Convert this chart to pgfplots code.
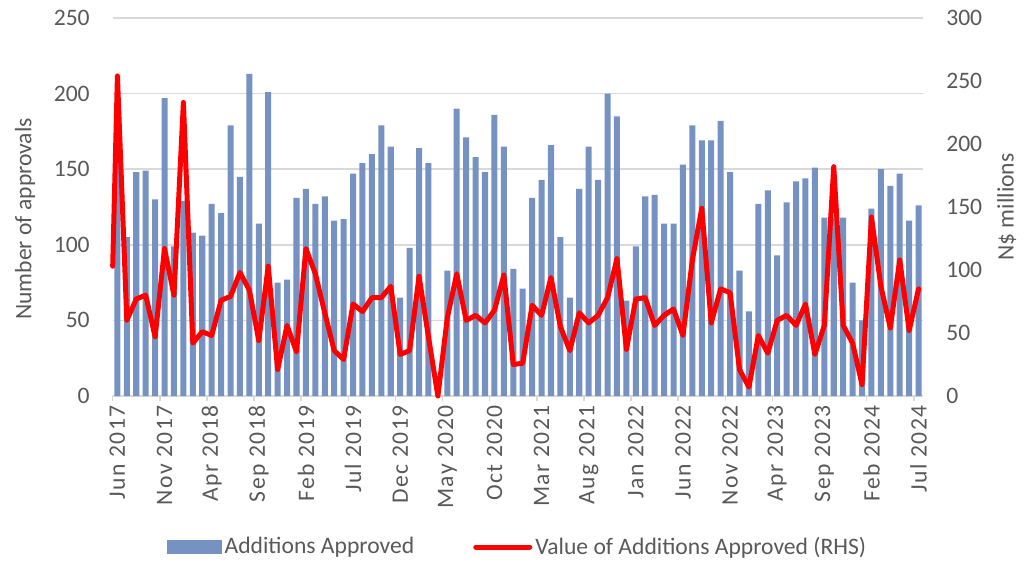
\documentclass[border=0pt]{standalone}
\usepackage{fontspec}
\setmainfont{Carlito}
\newfontfamily\spaced[LetterSpace=6]{Carlito}
\usepackage{pgfplots}
\pgfplotsset{compat=1.18}
\usepackage{pgfplotstable}

\definecolor{barblue}{RGB}{117,146,194}
\definecolor{gridgray}{RGB}{217,217,217}
\definecolor{labelgray}{RGB}{89,89,89}

% monthly data, Jun 2017 = 0 ... Jul 2024 = 85
\pgfplotstableread{
x n
0 165
1 105
2 148
3 149
4 130
5 197
6 99
7 129
8 108
9 106
10 127
11 121
12 179
13 145
14 213
15 114
16 201
17 75
18 77
19 131
20 137
21 127
22 132
23 116
24 117
25 147
26 154
27 160
28 179
29 165
30 65
31 98
32 164
33 154
34 0
35 83
36 190
37 171
38 158
39 148
40 186
41 165
42 84
43 71
44 131
45 143
46 166
47 105
48 65
49 137
50 165
51 143
52 200
53 185
54 63
55 99
56 132
57 133
58 114
59 114
60 153
61 179
62 169
63 169
64 182
65 148
66 83
67 56
68 127
69 136
70 93
71 128
72 142
73 144
74 151
75 118
76 118
77 118
78 75
79 50
80 124
81 150
82 139
83 147
84 116
85 126
}\approvals

\pgfplotstableread{
x v
-0.5 103
0 254
1 60
2 77
3 80
4 47
5 117
6 80
7 233
8 42
9 51
10 48
11 76
12 79
13 98
14 84
15 44
16 103
17 21
18 56
19 35
20 117
21 97
22 66
23 36
24 29
25 73
26 67
27 78
28 78
29 87
30 33
31 36
32 95
33 47
34 0
35 62
36 97
37 60
38 64
39 58
40 68
41 96
42 25
43 26
44 72
45 64
46 94
47 55
48 36
49 66
50 58
51 64
52 78
53 109
54 37
55 77
56 78
57 56
58 64
59 69
60 48
61 108
62 149
63 58
64 85
65 82
66 21
67 7
68 48
69 34
70 60
71 64
72 56
73 73
74 33
75 56
76 182
77 56
78 42
79 9
80 142
81 87
82 54
83 108
84 52
85 85
}\values

\newcommand{\lbl}{\fontsize{11.8}{14}\selectfont\color{labelgray}}

\begin{document}
\begin{tikzpicture}
\pgfplotsset{
  every axis/.append style={
    scale only axis, width=405.3pt, height=189pt,
    xmin=-0.5, xmax=85.5,
    tick label style={font=\lbl},
    /pgf/number format/assume math mode=true,
  }
}
\begin{axis}[
  ymin=0, ymax=250, ytick={0,50,...,250},
  axis x line*=bottom, axis y line*=left,
  x axis line style={draw=gridgray, line width=0.75pt},
  y axis line style={draw=none},
  ymajorgrids, grid style={draw=gridgray, line width=0.75pt},
  major tick length=0pt,
  ytick style={draw=none},
  yticklabel style={inner sep=0pt, xshift=-11.3pt},
  xtick={0,5,...,85},
  xticklabels={Jun 2017,Nov 2017,Apr 2018,Sep 2018,Feb 2019,Jul 2019,Dec 2019,May 2020,Oct 2020,Mar 2021,Aug 2021,Jan 2022,Jun 2022,Nov 2022,Apr 2023,Sep 2023,Feb 2024,Jul 2024},
  xticklabel style={yshift=-4.5pt, rotate=90, anchor=east, inner sep=0pt, font=\lbl\spaced},
  extra x ticks={-0.5,4.5,...,84.5},
  extra x tick labels={},
  extra x tick style={major tick length=2.5pt, tick align=outside, tick style={draw=gridgray, line width=0.75pt}},
  ylabel={Number of approvals},
  every axis y label/.style={at={(axis description cs:0,0.5)}, xshift=-43.8pt, yshift=-6pt, rotate=90, anchor=center, font=\lbl, text=labelgray},
]
\addplot[ybar, bar width=0.64, fill=barblue, draw=none] table[x=x, y=n] {\approvals};
\end{axis}

\begin{axis}[
  ymin=0, ymax=300, ytick={0,50,...,300},
  axis x line=none, axis y line*=right,
  y axis line style={draw=none},
  major tick length=0pt,
  ytick style={draw=none},
  yticklabel style={inner sep=0pt, anchor=west, xshift=11.3pt},
  ylabel={N\$ millions},
  every axis y label/.style={at={(axis description cs:1,0.5)}, xshift=41.7pt, rotate=90, anchor=center, font=\lbl, text=labelgray},
  clip=false,
  legend style={at={(axis description cs:0.5,0)}, anchor=center, yshift=-75.5pt,
    draw=none, fill=none, legend columns=2, font=\lbl,
    /tikz/every even column/.append style={column sep=28pt},
    nodes={inner sep=1.5pt}},
]
\addlegendimage{legend image code/.code={\fill[barblue] (0pt,-3.3pt) rectangle (27pt,3.3pt);}}
\addlegendentry{Additions Approved}
\addplot[red, line width=2.5pt, line join=round, line cap=round,
  legend image code/.code={\draw[red, line width=2.5pt, line cap=round] (0pt,0pt) -- (27pt,0pt);}]
  table[x=x, y=v] {\values};
\addlegendentry{Value of Additions Approved (RHS)}
\end{axis}
\path[use as bounding box] (-56.35pt,-83pt) rectangle (456.65pt,198pt);
\end{tikzpicture}
\end{document}
